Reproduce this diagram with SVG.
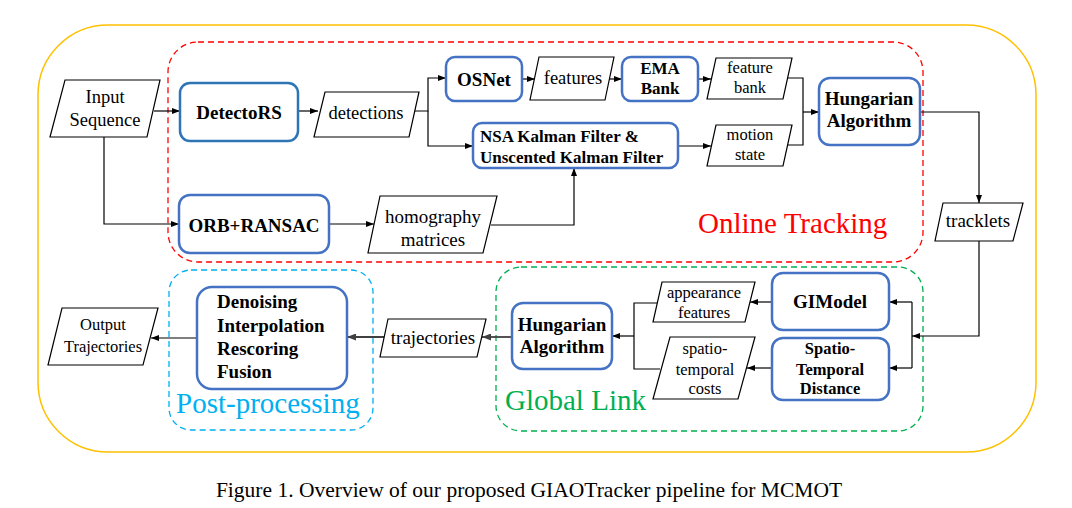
<svg xmlns="http://www.w3.org/2000/svg" width="1072" height="508" viewBox="0 0 1072 508">
<defs>
<marker id="ah" markerWidth="8" markerHeight="6" refX="8" refY="3" orient="auto" markerUnits="userSpaceOnUse"><path d="M0,0 L8,3 L0,6 z" fill="#000"/></marker>
<marker id="ahg" markerWidth="9" markerHeight="7" refX="9" refY="3.5" orient="auto" markerUnits="userSpaceOnUse"><path d="M0,0 L9,3.5 L0,7 z" fill="#404040"/></marker>
<style>
text{font-family:"Liberation Serif","Times New Roman",serif;fill:#000}
.b{font-weight:bold}
.c{text-anchor:middle}
.node{fill:#fff;stroke:#4472C4;stroke-width:2.5}
.para{fill:#fff;stroke:#000;stroke-width:1.2}
.ln{fill:none;stroke:#000;stroke-width:1.2}
.arr{marker-end:url(#ah)}
.gl{fill:none;stroke:#404040;stroke-width:1.8;marker-end:url(#ahg)}
.grp{fill:none;stroke-width:1.3;stroke-dasharray:6 4}
</style>
</defs>
<rect width="1072" height="508" fill="#fff"/>
<g id="regions">
<rect x="38" y="25" width="998" height="427" rx="70" fill="none" stroke="#FFC000" stroke-width="1.5"/>
<rect class="grp" x="168" y="42" width="755" height="220" rx="30" stroke="#FF0000"/>
<rect class="grp" x="496" y="267" width="427" height="164" rx="25" stroke="#00B050"/>
<rect class="grp" x="169" y="270" width="204" height="160" rx="22" stroke="#00B0F0"/>
<text x="698" y="233" font-size="29" fill="#FF0000" style="fill:#FF0000">Online Tracking</text>
<text x="505" y="410" font-size="29" style="fill:#00B050">Global Link</text>
<text x="176" y="413" font-size="29" style="fill:#00B0F0">Post-processing</text>
</g>
<g id="connectors">
<path class="ln arr" d="M154,111 H180"/>
<path class="ln arr" d="M298,111 H318"/>
<path class="ln arr" d="M412,111 H428 V78 H446"/>
<path class="ln arr" d="M428,111 V146 H473"/>
<path class="ln arr" d="M522,79 H535"/>
<path class="ln arr" d="M609,79 H622"/>
<path class="ln arr" d="M698,79 H711"/>
<path class="ln" d="M788,78 H803 V145 H787"/>
<path class="ln arr" d="M803,112 H819"/>
<path class="ln arr" d="M678,146 H711"/>
<path class="ln arr" d="M104,137 V224 H179"/>
<path class="ln arr" d="M329,224 H374"/>
<path class="ln arr" d="M491,225 H574 V168"/>
<path class="ln arr" d="M920,112 H979 V203"/>
<path class="ln arr" d="M979,241 V336 H912"/>
<path class="ln" d="M912,302 V368"/>
<path class="ln arr" d="M912,302 H889"/>
<path class="ln arr" d="M912,368 H889"/>
<path class="ln arr" d="M772,302 H750"/>
<path class="ln arr" d="M772,368 H747"/>
<path class="ln" d="M657,303 H634 V369 H660"/>
<path class="ln arr" d="M634,336 H612"/>
<path class="gl" d="M512,337 H482"/>
<path class="gl" d="M384,337 H347"/>
<path class="ln arr" d="M197,338 H151"/>
</g>
<g id="input-sequence">
<polygon class="para" points="65,80 160,80 147,137 50,137"/>
<text class="c" x="105" y="103" font-size="18.5">Input</text>
<text class="c" x="105" y="126" font-size="18.5">Sequence</text>
</g>
<g id="detectors">
<rect x="180" y="83" width="118" height="58" rx="10" fill="#fff" stroke="#2E75B6" stroke-width="2.5"/>
<text class="c b" x="239" y="119" font-size="19">DetectoRS</text>
</g>
<g id="detections">
<polygon class="para" points="325,92 419,92 409,137 314,137"/>
<text class="c" x="366" y="119" font-size="18.5">detections</text>
</g>
<g id="osnet">
<rect class="node" x="446" y="57" width="76" height="44" rx="9"/>
<text class="c b" x="484" y="86" font-size="19">OSNet</text>
</g>
<g id="features">
<polygon class="para" points="539,57 614,57 605,100 530,100"/>
<text class="c" x="573" y="84" font-size="18.5">features</text>
</g>
<g id="ema-bank">
<rect class="node" x="622" y="57" width="76" height="44" rx="9"/>
<text class="c b" x="660" y="74" font-size="17">EMA</text>
<text class="c b" x="660" y="94" font-size="17">Bank</text>
</g>
<g id="feature-bank">
<polygon class="para" points="716,58 792,58 783,99 707,99"/>
<text class="c" x="750" y="73" font-size="16.5">feature</text>
<text class="c" x="750" y="93" font-size="16.5">bank</text>
</g>
<g id="kalman">
<rect class="node" x="473" y="123" width="205" height="45" rx="9"/>
<text class="b" x="480" y="142" font-size="17">NSA Kalman Filter &amp;</text>
<text class="b" x="480" y="163" font-size="17">Unscented Kalman Filter</text>
</g>
<g id="motion-state">
<polygon class="para" points="716,125 792,125 783,166 707,166"/>
<text class="c" x="750" y="140" font-size="16.5">motion</text>
<text class="c" x="750" y="160" font-size="16.5">state</text>
</g>
<g id="hungarian-online">
<rect class="node" x="819" y="78" width="101" height="67" rx="11"/>
<text class="c b" x="869" y="105" font-size="19">Hungarian</text>
<text class="c b" x="869" y="127" font-size="19">Algorithm</text>
</g>
<g id="orb-ransac">
<rect class="node" x="179" y="195" width="150" height="58" rx="11"/>
<text class="c b" x="254" y="232" font-size="19">ORB+RANSAC</text>
</g>
<g id="homography">
<polygon class="para" points="380,196 497,196 483,253 368,253"/>
<text class="c" x="433" y="223" font-size="19">homography</text>
<text class="c" x="433" y="246" font-size="19">matrices</text>
</g>
<g id="tracklets">
<polygon class="para" points="943,203 1023,203 1013,241 935,241"/>
<text class="c" x="978" y="227" font-size="19">tracklets</text>
</g>
<g id="gimodel">
<rect class="node" x="772" y="273" width="117" height="57" rx="11"/>
<text class="c b" x="830" y="308" font-size="19">GIModel</text>
</g>
<g id="st-distance">
<rect class="node" x="772" y="338" width="117" height="62" rx="11"/>
<text class="c b" x="830" y="354" font-size="16.5">Spatio-</text>
<text class="c b" x="830" y="375" font-size="16.5">Temporal</text>
<text class="c b" x="830" y="394" font-size="16.5">Distance</text>
</g>
<g id="appearance-features">
<polygon class="para" points="662,282 755,282 745,322 653,322"/>
<text class="c" x="704" y="298" font-size="16.5">appearance</text>
<text class="c" x="704" y="318" font-size="16.5">features</text>
</g>
<g id="st-costs">
<polygon class="para" points="670,337 755,337 738,399 653,399"/>
<text class="c" x="705" y="354" font-size="16.5">spatio-</text>
<text class="c" x="705" y="375" font-size="16.5">temporal</text>
<text class="c" x="705" y="394" font-size="16.5">costs</text>
</g>
<g id="hungarian-global">
<rect class="node" x="512" y="303" width="100" height="66" rx="11"/>
<text class="c b" x="562" y="331" font-size="19">Hungarian</text>
<text class="c b" x="562" y="353" font-size="19">Algorithm</text>
</g>
<g id="trajectories">
<polygon class="para" points="388,319 486,319 477,357 380,357"/>
<text class="c" x="433" y="344" font-size="19">trajectories</text>
</g>
<g id="post-processing">
<rect class="node" x="197" y="287" width="150" height="102" rx="15"/>
<text class="b" x="217" y="308" font-size="19">Denoising</text>
<text class="b" x="217" y="332" font-size="19">Interpolation</text>
<text class="b" x="217" y="355" font-size="19">Rescoring</text>
<text class="b" x="217" y="378" font-size="19">Fusion</text>
</g>
<g id="output-trajectories">
<polygon class="para" points="62,308 158,308 143,365 48,365"/>
<text class="c" x="103" y="330" font-size="16.5">Output</text>
<text class="c" x="103" y="352" font-size="16.5">Trajectories</text>
</g>
<text class="c" x="529" y="497" font-size="21.5">Figure 1. Overview of our proposed GIAOTracker pipeline for MCMOT</text>
</svg>
